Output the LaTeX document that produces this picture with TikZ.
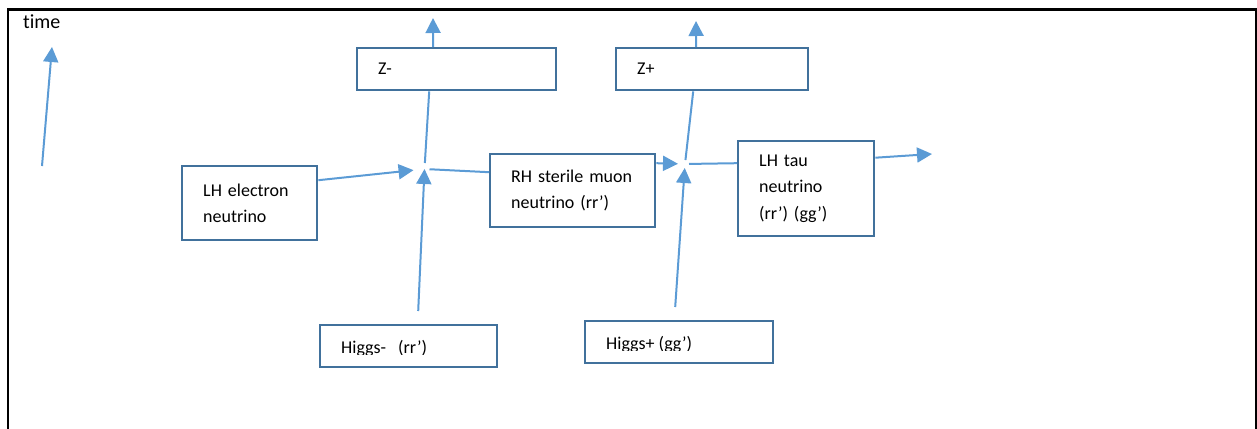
\documentclass[tikz,border=0pt]{standalone}
\usepackage{fontspec}
\setmainfont{Carlito}[Ligatures=NoCommon]
\usetikzlibrary{arrows.meta,positioning}
\definecolor{Frame}{HTML}{000000}
\definecolor{BoxEdge}{HTML}{41719C}
\definecolor{Flow}{HTML}{5B9BD5}
\tikzset{
  box/.style={draw=BoxEdge,line width=2.4pt,anchor=north west,align=left,
    inner xsep=21pt,inner ysep=0pt,font=\fontsize{18}{26.5}\selectfont},
  label/.style={anchor=base west,inner sep=0pt,font=\fontsize{18}{22}\selectfont},
  flow/.style={draw=Flow,line width=2pt},
  arr/.style={flow,-{Triangle[length=15pt,width=15pt]}},
}

\begin{document}
\begin{tikzpicture}[x=1pt,y=-1pt]
  \useasboundingbox (0,0) rectangle (1257,428);
  % outer frame, open at the bottom
  \draw[Frame,line width=2.6pt] (8,440) -- (8,9.5) -- (1256,9.5) -- (1256,440);

  % time axis
  \node[anchor=base west,inner sep=0pt,font=\fontsize{20}{24}\selectfont] (time) at (23,29) {time};
  \coordinate (tbot) at (42,166);
  \coordinate (ttop) at (52,47);
  \draw[arr] (tbot) -- (ttop);

  % boxes
  \node[box,text width=157pt,minimum height=42pt] (zm) at (356,47) {Z-};
  \node[box,text width=150pt,minimum height=42pt] (zp) at (615,47) {Z+};
  \node[box,text width=93pt,minimum height=74pt] (lhe) at (181,165) {LH electron\\neutrino};
  \node[box,text width=123pt,minimum height=73pt] (rh) at (489,153) {RH sterile muon\\neutrino (rr’)};
  \node[box,text width=94pt,minimum height=95pt] (tau) at (737,140) {LH tau\\neutrino\\(rr’) (gg’)};
  \node[box,text width=135pt,minimum height=42pt] (hm) at (319,324) {};
  \node[box,text width=146pt,minimum height=42pt] (hp) at (584,320) {};

  % cut-off Higgs labels
  \begin{scope}
    \clip (hm.north west) rectangle (496,354);
    \node[label] (hmtxt) at (341,353) {Higgs-\hspace{12pt}(rr’)};
  \end{scope}
  \begin{scope}
    \clip (hp.north west) rectangle (772,350);
    \node[label] (hptxt) at (606,349) {Higgs+ (gg’)};
  \end{scope}

  % vertices and free ends
  \coordinate (v1) at (424.5,169);
  \coordinate (v2) at (685,164);
  \coordinate (zmout) at (433,18);
  \coordinate (zpout) at (696,21);
  \coordinate (tauout) at (932,154);

  % first vertex
  \draw[arr,shorten >=11pt] ([yshift=23pt]lhe.east) -- (v1);
  \draw[arr,shorten >=0pt] ([xshift=9.5pt,yshift=13pt]hm.north) -- (v1);
  \draw[flow,shorten >=5pt] ([yshift=18.5pt]rh.west) -- (v1);
  \draw[flow,shorten <=6pt] (v1) -- ([xshift=-27.5pt]zm.south);
  \draw[arr] ([xshift=-23.5pt]zm.north) -- (zmout);

  % second vertex
  \draw[arr,shorten >=7pt] ([yshift=27.5pt]rh.east) -- (v2);
  \draw[arr,shorten >=4pt] ([xshift=-4pt,yshift=13pt]hp.north) -- (v2);
  \draw[flow,shorten >=4pt] ([yshift=25.5pt]tau.west) -- (v2);
  \draw[flow,shorten <=4pt] (v2) -- ([xshift=-19pt]zp.south);
  \draw[arr] ([xshift=-16pt]zp.north) -- (zpout);
  \draw[arr] ([yshift=31pt]tau.east) -- (tauout);
\end{tikzpicture}
\end{document}
